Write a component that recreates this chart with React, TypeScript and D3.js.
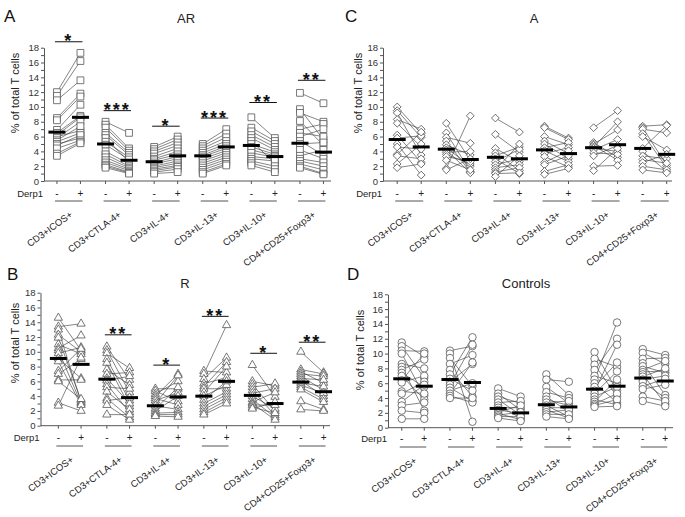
import React, { useEffect, useRef } from 'react'
import * as d3 from 'd3'

const categories = ['CD3+ICOS+', 'CD3+CTLA-4+', 'CD3+IL-4+', 'CD3+IL-13+', 'CD3+IL-10+', 'CD4+CD25+Foxp3+']
const yTickValues = [0, 1, 2, 3, 4, 5, 6, 7, 8, 9, 10, 11, 12, 13, 14, 15, 16, 17, 18]
const yLabelValues = [0, 2, 4, 6, 8, 10, 12, 14, 16, 18]

// AR (squares)
const arPre = [
  [12.0, 11.5, 10.9, 8.5, 8.2, 6.9, 6.5, 6.2, 6.0, 5.8, 5.5, 5.3, 5.0, 4.8, 4.4, 3.7, 3.4],
  [8.0, 7.6, 7.2, 6.5, 6.2, 5.8, 5.3, 4.9, 4.0, 3.6, 3.2, 2.8, 2.5, 2.2, 2.0, 1.8],
  [4.6, 4.3, 4.0, 3.7, 3.3, 3.0, 2.8, 2.5, 2.3, 2.0, 1.8, 1.6, 1.4, 1.2, 1.0],
  [5.0, 4.7, 4.4, 4.1, 3.8, 3.5, 3.3, 3.0, 2.7, 2.4, 2.1, 1.8, 1.5, 1.2, 1.0],
  [8.6, 7.2, 6.7, 6.2, 5.8, 5.4, 5.0, 4.6, 4.2, 3.8, 3.3, 3.0, 2.7, 2.4, 2.1],
  [11.9, 9.7, 9.2, 8.1, 7.0, 6.5, 6.0, 5.4, 5.0, 4.2, 3.4, 3.0, 2.7, 2.3, 2.0, 1.8],
]
const arPost = [
  [17.3, 16.2, 13.6, 11.8, 11.4, 10.3, 8.8, 8.6, 6.8, 8.0, 7.4, 6.5, 5.8, 6.2, 5.5, 5.3, 5.1],
  [6.5, 4.4, 4.1, 3.8, 3.5, 2.6, 3.2, 2.9, 2.3, 2.0, 1.8, 1.6, 1.4, 1.2, 1.1, 1.0],
  [6.0, 5.6, 5.2, 4.8, 4.4, 4.0, 3.6, 3.3, 3.0, 2.7, 2.4, 2.1, 1.9, 1.6, 1.2],
  [7.0, 6.4, 5.9, 5.4, 5.0, 4.7, 4.4, 4.1, 3.8, 3.5, 3.2, 2.9, 2.6, 2.3, 2.1],
  [5.8, 5.4, 5.0, 4.6, 4.2, 2.4, 3.9, 3.6, 3.4, 3.2, 3.0, 2.7, 2.0, 1.6, 1.2],
  [10.5, 5.6, 8.0, 4.8, 7.7, 6.0, 7.0, 3.5, 5.2, 3.0, 4.2, 2.5, 2.0, 1.5, 1.0, 0.9],
]
const arMeanPre = [6.6, 5.0, 2.6, 3.4, 4.8, 5.1]
const arMeanPost = [8.6, 2.8, 3.4, 4.6, 3.3, 3.9]
const arSigText = ['*', '***', '*', '***', '**', '**']
const arSigLevel = [18.8, 9.5, 7.4, 8.5, 10.6, 13.6]

// R (triangles)
const rPre = [
  [14.6, 13.4, 13.0, 12.3, 11.9, 11.0, 10.5, 10.2, 9.8, 9.1, 8.7, 7.4, 7.0, 6.2, 6.0, 3.1, 2.7],
  [10.7, 10.2, 9.8, 9.0, 8.5, 7.6, 7.0, 6.4, 6.1, 5.6, 5.2, 4.6, 3.7, 3.4, 2.8, 1.5],
  [5.0, 4.7, 4.3, 4.0, 3.7, 3.4, 3.0, 2.7, 2.3, 2.0, 1.7, 1.5, 1.3],
  [7.4, 7.0, 6.3, 5.7, 5.3, 5.0, 4.5, 4.0, 3.5, 3.0, 2.6, 2.2, 1.8, 1.5],
  [8.2, 6.0, 5.6, 5.2, 4.8, 4.4, 4.0, 3.6, 3.2, 3.0, 2.8, 2.5, 2.3],
  [10.0, 7.6, 7.3, 7.0, 6.7, 6.4, 6.1, 5.8, 5.5, 5.2, 4.9, 3.3, 2.2],
]
const rPost = [
  [10.2, 13.8, 3.2, 10.0, 3.4, 9.7, 12.2, 3.0, 10.6, 6.4, 2.8, 10.4, 9.0, 6.2, 3.6, 2.0, 9.2],
  [6.2, 4.5, 7.8, 3.4, 2.6, 5.5, 7.2, 3.0, 6.7, 1.8, 5.0, 2.2, 1.1, 3.8, 0.8, 1.5],
  [5.0, 3.3, 6.0, 7.0, 2.8, 4.5, 6.8, 2.2, 5.2, 4.0, 1.8, 1.5, 1.2],
  [7.2, 13.6, 9.2, 6.5, 8.6, 5.0, 8.0, 5.5, 6.0, 4.6, 4.2, 3.8, 3.4, 3.0],
  [3.9, 5.4, 2.0, 5.7, 1.4, 5.0, 2.3, 1.1, 4.5, 0.8, 2.8, 1.7, 3.2],
  [7.2, 7.0, 5.8, 6.7, 4.8, 6.2, 4.0, 5.3, 4.4, 3.6, 3.2, 2.2, 2.0],
]
const rMeanPre = [9.1, 6.3, 2.7, 4.0, 4.1, 5.9]
const rMeanPost = [8.3, 3.8, 3.9, 6.0, 3.0, 4.6]
const rSigText = ['', '**', '*', '**', '*', '**']
const rSigLevel = [0, 12.3, 8.2, 14.8, 9.8, 11.3]

// A (diamonds)
const aPre = [
  [10.0, 9.5, 9.2, 8.3, 7.8, 6.2, 5.8, 5.0, 4.6, 3.6, 3.4, 2.3, 1.8],
  [7.8, 6.5, 5.9, 5.4, 4.9, 4.5, 4.2, 3.9, 3.6, 3.3, 2.8, 1.7, 1.5],
  [8.5, 6.3, 4.4, 3.8, 3.4, 3.0, 2.6, 2.2, 1.8, 1.5, 1.2, 1.0, 0.6],
  [7.4, 7.2, 6.0, 5.4, 5.0, 4.5, 4.1, 3.7, 3.3, 2.5, 2.2, 1.3, 0.9],
  [7.2, 5.2, 5.0, 4.8, 4.6, 4.4, 4.2, 3.8, 3.4, 2.0, 1.4],
  [7.4, 7.2, 7.0, 6.4, 6.0, 4.4, 4.0, 3.4, 2.9, 2.5, 2.0, 1.5],
]
const aPost = [
  [6.4, 5.9, 3.5, 7.0, 4.6, 2.5, 6.1, 0.8, 4.3, 6.6, 3.0, 5.0, 2.3],
  [2.8, 1.3, 5.1, 1.2, 3.5, 2.0, 1.1, 4.0, 2.3, 2.6, 1.5, 8.8, 3.0],
  [6.6, 3.9, 2.6, 1.4, 4.6, 1.0, 4.3, 3.0, 2.2, 5.0, 1.8, 1.1, 3.4],
  [5.8, 5.6, 4.9, 3.7, 3.0, 5.2, 2.6, 4.5, 1.9, 4.1, 3.4, 2.2, 1.7],
  [9.5, 3.2, 6.9, 2.8, 8.0, 4.0, 5.6, 3.6, 4.8, 2.1, 4.4],
  [7.6, 2.1, 6.5, 1.8, 4.2, 7.5, 1.3, 3.0, 2.4, 3.6, 1.5, 1.1],
]
const aMeanPre = [5.6, 4.3, 3.2, 4.2, 4.5, 4.4]
const aMeanPost = [4.6, 2.9, 3.0, 3.7, 4.9, 3.6]

// Controls (circles)
const ctrlPre = [
  [11.5, 11.0, 10.4, 10.0, 8.6, 8.2, 7.8, 7.4, 7.0, 6.4, 6.1, 4.9, 4.6, 3.5, 3.0, 2.3, 1.2],
  [10.4, 10.0, 9.4, 8.6, 7.8, 7.2, 6.6, 6.2, 5.8, 5.4, 5.0, 4.6, 4.3, 4.0],
  [5.3, 4.6, 4.2, 3.8, 3.4, 3.0, 2.7, 2.4, 2.1, 1.9, 1.7, 1.5, 1.3],
  [7.2, 6.5, 5.5, 4.8, 4.2, 3.8, 3.4, 3.0, 2.7, 2.4, 2.1, 1.8, 1.5],
  [10.2, 9.3, 8.5, 7.8, 7.0, 6.5, 6.0, 5.5, 5.0, 4.6, 4.2, 3.8, 3.5, 3.2, 3.0, 2.8],
  [10.6, 10.1, 9.3, 8.7, 8.3, 7.8, 7.5, 7.2, 6.9, 6.5, 6.2, 5.6, 5.2, 4.2, 3.6],
]
const ctrlPost = [
  [9.6, 6.7, 10.3, 4.3, 8.0, 2.3, 9.2, 5.5, 3.8, 10.0, 7.0, 4.6, 6.2, 5.8, 3.4, 2.0, 1.2],
  [11.0, 0.8, 5.6, 9.8, 4.2, 12.2, 5.0, 8.6, 11.2, 3.6, 6.0, 8.8, 3.4, 4.0],
  [4.2, 2.4, 3.3, 1.7, 3.6, 1.3, 2.7, 1.9, 3.0, 1.1, 2.1, 1.5, 0.9],
  [4.4, 6.2, 3.3, 4.0, 2.1, 3.0, 3.6, 1.5, 2.7, 1.3, 2.4, 1.8, 1.2],
  [5.0, 8.2, 4.2, 12.0, 6.0, 14.2, 3.4, 8.8, 11.2, 7.6, 5.5, 3.1, 6.5, 4.6, 3.8, 2.9],
  [9.8, 8.6, 9.4, 4.4, 7.4, 9.0, 7.7, 3.2, 8.0, 7.0, 4.0, 6.6, 5.8, 3.6, 2.9],
]
const ctrlMeanPre = [6.6, 6.5, 2.6, 3.1, 5.2, 6.7]
const ctrlMeanPost = [5.6, 6.1, 2.0, 2.8, 5.6, 6.3]

const FONT = 'Arial, "Liberation Sans", sans-serif'

const panels = [
  {
    letter: 'A', title: 'AR', shape: 'square',
    pre: arPre, post: arPost, meanPre: arMeanPre, meanPost: arMeanPost, sigText: arSigText, sigLevel: arSigLevel,
    axisX: 44, yTop: 47.7, yBottom: 181, firstCenter: 68.7, spacing: 48.6, gap: 23.5, axisEnd: 331,
    derpY: 193, underY: 201, letterX: 4, letterY: 22, titleX: 186, titleY: 23, ylabX: 19, ylabY: 93,
  },
  {
    letter: 'B', title: 'R', shape: 'triangle',
    pre: rPre, post: rPost, meanPre: rMeanPre, meanPost: rMeanPost, sigText: rSigText, sigLevel: rSigLevel,
    axisX: 40.5, yTop: 292.7, yBottom: 425.7, firstCenter: 69.7, spacing: 48.5, gap: 22.7, axisEnd: 330,
    derpY: 437, underY: 446, letterX: 7, letterY: 280, titleX: 185, titleY: 288, ylabX: 19, ylabY: 343,
  },
  {
    letter: 'C', title: 'A', shape: 'diamond',
    pre: aPre, post: aPost, meanPre: aMeanPre, meanPost: aMeanPost, sigText: [], sigLevel: [],
    axisX: 383, yTop: 47.7, yBottom: 181, firstCenter: 409.2, spacing: 49.1, gap: 24, axisEnd: 672,
    derpY: 193, underY: 201, letterX: 345, letterY: 22, titleX: 534, titleY: 23, ylabX: 362, ylabY: 93,
  },
  {
    letter: 'D', title: 'Controls', shape: 'circle',
    pre: ctrlPre, post: ctrlPost, meanPre: ctrlMeanPre, meanPost: ctrlMeanPost, sigText: [], sigLevel: [],
    axisX: 388, yTop: 294.3, yBottom: 427.7, firstCenter: 413, spacing: 48.2, gap: 22.5, axisEnd: 673,
    derpY: 438, underY: 447, letterX: 347, letterY: 280, titleX: 526, titleY: 288, ylabX: 364, ylabY: 350,
  },
]

const symbolFor = (shape: string) => {
  if (shape === 'square') return d3.symbol().type(d3.symbolSquare).size(46)()
  if (shape === 'triangle') return d3.symbol().type(d3.symbolTriangle).size(30)()
  if (shape === 'diamond') return d3.symbol().type(d3.symbolSquare).size(30)()
  return d3.symbol().type(d3.symbolCircle).size(44)()
}

const drawPanel = (svg: any, p: any) => {
  const g = svg.append('g')
  const y = d3.scaleLinear().domain([0, 18]).range([p.yBottom, p.yTop])
  const x = d3.scalePoint().domain(categories).range([p.firstCenter, p.firstCenter + 5 * p.spacing])
  const preX = (c: string) => (x(c) as number) - p.gap / 2
  const postX = (c: string) => (x(c) as number) + p.gap / 2

  // panel letter and title
  g.append('text').attr('x', p.letterX).attr('y', p.letterY)
    .style('font-family', FONT).style('font-size', '17px').attr('fill', '#111').text(p.letter)
  g.append('text').attr('x', p.titleX).attr('y', p.titleY).attr('text-anchor', 'middle')
    .style('font-family', FONT).style('font-size', '13px').attr('fill', '#222').text(p.title)

  // y axis
  const yAxis = g.append('g')
    .attr('transform', `translate(${p.axisX},0)`)
    .call(d3.axisLeft(y).tickValues(yTickValues).tickSize(3).tickSizeOuter(0)
      .tickFormat((d: any) => (yLabelValues.includes(d) ? String(d) : '')))
  yAxis.select('.domain').attr('stroke', '#555')
  yAxis.selectAll('line').attr('stroke', '#555')
  yAxis.selectAll('text').style('font-family', FONT).style('font-size', '9.5px').attr('fill', '#333').attr('x', -5)

  g.append('text')
    .attr('transform', `translate(${p.ylabX},${p.ylabY}) rotate(-90)`)
    .attr('text-anchor', 'middle')
    .style('font-family', FONT).style('font-size', '11px').attr('fill', '#222')
    .text('% of total T cells')

  // x axis line with ticks at each condition
  g.append('line').attr('x1', p.axisX).attr('x2', p.axisEnd).attr('y1', p.yBottom).attr('y2', p.yBottom)
    .attr('stroke', '#555')
  categories.forEach(c => {
    ;[preX(c), postX(c)].forEach(px => {
      g.append('line').attr('x1', px).attr('x2', px).attr('y1', p.yBottom).attr('y2', p.yBottom + 3).attr('stroke', '#555')
    })
  })

  // Derp1 row, group underlines, rotated category labels
  g.append('text').attr('x', p.axisX - 1).attr('y', p.derpY + 3.5).attr('text-anchor', 'end')
    .style('font-family', FONT).style('font-size', '9.5px').attr('fill', '#222').text('Derp1')
  categories.forEach(c => {
    g.append('text').attr('x', preX(c)).attr('y', p.derpY + 3.5).attr('text-anchor', 'middle')
      .style('font-family', FONT).style('font-size', '10px').attr('fill', '#222').text('-')
    g.append('text').attr('x', postX(c)).attr('y', p.derpY + 3.5).attr('text-anchor', 'middle')
      .style('font-family', FONT).style('font-size', '10px').attr('fill', '#222').text('+')
    g.append('line').attr('x1', preX(c) - 2).attr('x2', postX(c) + 2).attr('y1', p.underY).attr('y2', p.underY)
      .attr('stroke', '#555').attr('stroke-width', 1)
    g.append('text')
      .attr('x', 0).attr('y', 0)
      .attr('transform', `translate(${(x(c) as number) + 4.5},${p.underY + 15}) rotate(-36)`)
      .attr('text-anchor', 'end')
      .style('font-family', FONT).style('font-size', '9.5px').attr('fill', '#222')
      .text(c)
  })

  // paired lines
  categories.forEach((c, i) => {
    p.pre[i].forEach((v: number, j: number) => {
      g.append('line')
        .attr('x1', preX(c)).attr('y1', y(v))
        .attr('x2', postX(c)).attr('y2', y(p.post[i][j]))
        .attr('stroke', '#333').attr('stroke-width', 0.6)
    })
  })

  // markers
  const sym = symbolFor(p.shape)
  categories.forEach((c, i) => {
    const pts = [
      ...p.pre[i].map((v: number) => [preX(c), y(v)]),
      ...p.post[i].map((v: number) => [postX(c), y(v)]),
    ]
    g.selectAll(null).data(pts).enter().append('path')
      .attr('d', sym)
      .attr('transform', (d: number[]) => `translate(${d[0]},${d[1]})${p.shape === 'diamond' ? ' rotate(45)' : ''}`)
      .attr('fill', 'white').attr('stroke', '#555').attr('stroke-width', 0.8)
  })

  // mean bars
  categories.forEach((c, i) => {
    ;[[preX(c), p.meanPre[i]], [postX(c), p.meanPost[i]]].forEach(([mx, mv]) => {
      g.append('line').attr('x1', mx - 8.5).attr('x2', mx + 8.5).attr('y1', y(mv)).attr('y2', y(mv))
        .attr('stroke', '#000').attr('stroke-width', 3)
    })
  })

  // significance
  categories.forEach((c, i) => {
    if (!p.sigText[i]) return
    const ly = y(p.sigLevel[i])
    g.append('line').attr('x1', preX(c) - 2).attr('x2', postX(c) + 2).attr('y1', ly).attr('y2', ly)
      .attr('stroke', '#111').attr('stroke-width', 1)
    g.append('text').attr('x', x(c) as number).attr('y', ly + 5.5).attr('text-anchor', 'middle')
      .style('font-family', FONT).style('font-size', '18px').style('font-weight', 'bold')
      .style('letter-spacing', '2px').attr('fill', '#111')
      .text(p.sigText[i])
  })
}

const App = () => {
  const svgRef = useRef<SVGSVGElement>(null)

  useEffect(() => {
    if (!svgRef.current) return
    const svg = d3.select(svgRef.current)
    svg.selectAll('*').remove()
    svg.append('rect').attr('width', 685).attr('height', 517).attr('fill', 'white')
    panels.forEach(p => drawPanel(svg, p))
  }, [])

  return (
    <svg ref={svgRef} width={685} height={517}
      style={{ position: 'absolute', left: 0, top: 0, background: 'white' }} />
  )
}

export default App
